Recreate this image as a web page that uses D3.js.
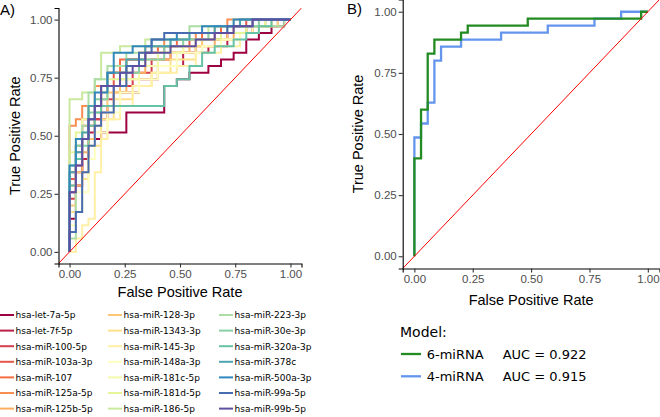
<!DOCTYPE html>
<html><head><meta charset="utf-8">
<script src="https://cdn.jsdelivr.net/npm/d3@7"></script>
<style>body{margin:0;background:#fff}svg{display:block}</style>
</head><body><svg id="c" width="660" height="417"></svg>
<script>
// ---------------- data ----------------
const tickValues = [0, 0.25, 0.5, 0.75, 1];
const nNeg = 35, nPos = 35;

const mirnaNames = [
  "hsa-let-7a-5p","hsa-let-7f-5p","hsa-miR-100-5p","hsa-miR-103a-3p","hsa-miR-107",
  "hsa-miR-125a-5p","hsa-miR-125b-5p","hsa-miR-128-3p","hsa-miR-1343-3p","hsa-miR-145-3p",
  "hsa-miR-148a-3p","hsa-miR-181c-5p","hsa-miR-181d-5p","hsa-miR-186-5p","hsa-miR-223-3p",
  "hsa-miR-30e-3p","hsa-miR-320a-3p","hsa-miR-378c","hsa-miR-500a-3p","hsa-miR-99a-5p","hsa-miR-99b-5p"
];
// ROC step corners per miRNA: [false positives, true positives] (out of nNeg / nPos)
const mirnaSteps = [
  [[0,5],[1,10],[2,14],[3,17],[5,18],[9,21],[15,25],[17,26],[19,27],[22,28],[24,29],[26,30],[28,32],[30,33],[32,34],[34,35]],
  [[0,9],[1,12],[2,14],[3,18],[4,20],[6,22],[8,24],[11,26],[14,28],[18,30],[22,31],[25,33],[29,34],[33,35]],
  [[0,8],[1,13],[2,17],[3,20],[5,23],[7,25],[10,27],[13,29],[16,30],[20,32],[24,33],[28,34],[31,35]],
  [[0,11],[1,16],[2,19],[4,22],[5,25],[7,27],[9,29],[12,30],[15,31],[19,32],[23,33],[26,34],[28,35]],
  [[0,12],[1,15],[2,20],[3,22],[5,24],[6,27],[8,29],[11,30],[14,31],[17,32],[21,33],[24,34],[27,35]],
  [[0,19],[1,20],[2,22],[4,25],[6,27],[9,29],[12,31],[15,32],[20,33],[23,34],[25,35]],
  [[0,10],[2,15],[3,19],[5,22],[7,24],[9,27],[12,29],[16,30],[19,31],[23,32],[26,33],[29,34],[32,35]],
  [[0,7],[1,12],[3,17],[4,21],[6,24],[8,26],[11,28],[14,30],[18,31],[21,32],[25,33],[28,34],[30,35]],
  [[0,6],[2,11],[3,16],[5,20],[7,23],[10,25],[13,27],[16,29],[20,31],[24,32],[27,33],[30,34],[33,35]],
  [[1,2],[2,4],[3,5],[4,12],[5,17],[6,20],[8,22],[10,25],[13,27],[17,28],[20,30],[24,31],[27,33],[30,34],[32,35]],
  [[0,4],[1,9],[3,14],[4,18],[6,21],[8,24],[11,26],[14,28],[17,30],[21,31],[24,32],[27,33],[29,34],[31,35]],
  [[0,13],[1,17],[2,20],[4,23],[6,25],[8,26],[11,28],[14,30],[18,32],[22,33],[26,34],[29,35]],
  [[0,15],[1,18],[3,22],[5,24],[6,26],[9,28],[12,30],[16,31],[20,32],[24,33],[28,34],[31,35]],
  [[0,23],[2,24],[4,26],[5,30],[8,31],[12,32],[17,33],[22,34],[26,35]],
  [[0,2],[1,16],[2,19],[3,24],[4,26],[6,28],[9,30],[13,31],[16,32],[19,34],[34,35]],
  [[0,13],[1,16],[3,21],[4,23],[6,25],[8,27],[11,29],[15,31],[18,32],[22,33],[25,34],[30,35]],
  [[0,10],[1,14],[2,17],[3,19],[4,21],[5,22],[15,25],[17,26],[19,28],[21,30],[23,31],[26,32],[28,33],[30,34],[32,35]],
  [[0,12],[1,15],[2,18],[3,22],[5,25],[6,27],[9,29],[12,31],[16,32],[19,33],[23,34],[27,35]],
  [[0,13],[1,17],[3,20],[4,24],[6,27],[7,30],[10,31],[13,32],[17,33],[21,34],[26,35]],
  [[0,3],[1,6],[2,12],[3,16],[4,19],[5,21],[7,25],[9,28],[11,30],[13,32],[15,33],[25,34],[29,35]],
  [[0,9],[1,13],[2,17],[3,20],[4,22],[5,25],[8,27],[10,28],[12,30],[16,31],[20,32],[23,33],[26,34],[29,35]]
];

const modelNames = ["6-miRNA", "4-miRNA"];
const modelAUC = ["0.922", "0.915"];
const model6Steps = [[0,14],[1,21],[2,29],[3,31],[7,32],[8,33],[17,34],[34,35]];
const model4Steps = [[0,17],[1,19],[2,22],[3,28],[4,30],[7,31],[13,32],[20,33],[27,34],[31,35]];

// ---------------- drawing ----------------
const svg = d3.select("#c");
const spectral = ["#9E0142","#D53E4F","#F46D43","#FDAE61","#FEE08B","#FFFFBF","#E6F598","#ABDDA4","#66C2A5","#3288BD","#5E4FA2"];
const spectralInterp = d3.piecewise(d3.interpolateRgb, spectral);
const mirnaColor = d3.scaleOrdinal().domain(mirnaNames)
  .range(mirnaNames.map((d, i) => spectralInterp(i / (mirnaNames.length - 1))));
const modelColor = d3.scaleOrdinal().domain(modelNames).range(["#228B22", "#6495ED"]);

const axisFont = "Liberation Sans, Arial, sans-serif";
const legendFont = "DejaVu Sans, Verdana, sans-serif";

function drawPanel(box, curves, colorOf, lineW, clipId, label, labelPos, titleY, yTitleX) {
  const x = d3.scaleLinear().domain([-0.05, 1.05]).range([box.l, box.r]);
  const y = d3.scaleLinear().domain([-0.05, 1.05]).range([box.b, box.t]);
  const g = svg.append("g");
  g.append("clipPath").attr("id", clipId).append("rect")
    .attr("x", box.l).attr("y", box.t).attr("width", box.r - box.l).attr("height", box.b - box.t);
  const plot = g.append("g").attr("clip-path", `url(#${clipId})`);
  const line = d3.line().curve(d3.curveStepAfter)
    .x(d => x(d[0] / nNeg)).y(d => y(d[1] / nPos));
  curves.forEach(c => {
    plot.append("path").datum([[0, 0], ...c.steps, [nNeg, nPos]])
      .attr("d", line).attr("fill", "none")
      .attr("stroke", colorOf(c.name)).attr("stroke-width", lineW)
      .attr("stroke-linejoin", "miter").attr("stroke-linecap", "butt");
  });
  // diagonal reference line
  plot.append("line").attr("x1", x(-0.05)).attr("y1", y(-0.05)).attr("x2", x(1.05)).attr("y2", y(1.05))
    .attr("stroke", "#FF0000").attr("stroke-width", 1);

  const xAxis = g.append("g").attr("transform", `translate(0,${box.b})`)
    .call(d3.axisBottom(x).tickValues(tickValues).tickFormat(d3.format(".2f")).tickSizeOuter(0).tickSize(4).tickPadding(2));
  const yAxis = g.append("g").attr("transform", `translate(${box.l},0)`)
    .call(d3.axisLeft(y).tickValues(tickValues).tickFormat(d3.format(".2f")).tickSizeOuter(0).tickSize(4).tickPadding(2));
  [xAxis, yAxis].forEach(a => {
    a.select(".domain").attr("stroke", "#000").attr("stroke-width", 1.1);
    a.selectAll(".tick line").attr("stroke", "#333").attr("stroke-width", 1.1);
    a.selectAll(".tick text").attr("fill", "#4D4D4D").style("font-family", axisFont).style("font-size", "11.5px");
  });
  g.append("text").attr("x", (box.l + box.r) / 2).attr("y", titleY).attr("text-anchor", "middle")
    .style("font-family", axisFont).style("font-size", "14.5px").attr("fill", "#000").text("False Positive Rate");
  g.append("text").attr("transform", `translate(${yTitleX},${(box.t + box.b) / 2}) rotate(-90)`)
    .attr("text-anchor", "middle").style("font-family", axisFont).style("font-size", "14.5px").attr("fill", "#000")
    .text("True Positive Rate");
  g.append("text").attr("x", labelPos[0]).attr("y", labelPos[1])
    .style("font-family", axisFont).style("font-size", "15px").attr("fill", "#000").text(label);
}

// Panel A
drawPanel({l: 58.5, r: 301.5, t: 8, b: 263.5},
  mirnaNames.map((n, i) => ({name: n, steps: mirnaSteps[i]})),
  mirnaColor, 2, "clipA", "A)", [0, 15], 296.5, 20);

// Panel B
drawPanel({l: 402.7, r: 659.5, t: -0.5, b: 268.5},
  [{name: modelNames[1], steps: model4Steps}, {name: modelNames[0], steps: model6Steps}],
  modelColor, 2.3, "clipB", "B)", [347, 13.5], 305, 363);

// Legend A (3 columns x 7 rows)
const legA = svg.append("g").style("font-family", legendFont).style("font-size", "9px");
const colX = [0, 108, 219];
mirnaNames.forEach((n, i) => {
  const col = Math.floor(i / 7), row = i % 7;
  const cy = 315 + row * 15.6;
  legA.append("line").attr("x1", colX[col]).attr("x2", colX[col] + 14).attr("y1", cy).attr("y2", cy)
    .attr("stroke", mirnaColor(n)).attr("stroke-width", 2);
  legA.append("text").attr("x", colX[col] + 15.5).attr("y", cy + 3.3).attr("fill", "#000").text(n);
});

// Legend B
const legB = svg.append("g").style("font-family", legendFont);
legB.append("text").attr("x", 400).attr("y", 336.5).style("font-size", "14px").attr("fill", "#000").text("Model:");
modelNames.forEach((n, i) => {
  const cy = 354 + i * 22.3;
  legB.append("line").attr("x1", 401).attr("x2", 421).attr("y1", cy).attr("y2", cy)
    .attr("stroke", modelColor(n)).attr("stroke-width", 2.3);
  legB.append("text").attr("x", 426.7).attr("y", cy + 4.5).style("font-size", "13px").attr("fill", "#000").text(n);
  legB.append("text").attr("x", 502.7).attr("y", cy + 4.5).style("font-size", "13px").attr("fill", "#000")
    .text("AUC = " + modelAUC[i]);
});
</script></body></html>
